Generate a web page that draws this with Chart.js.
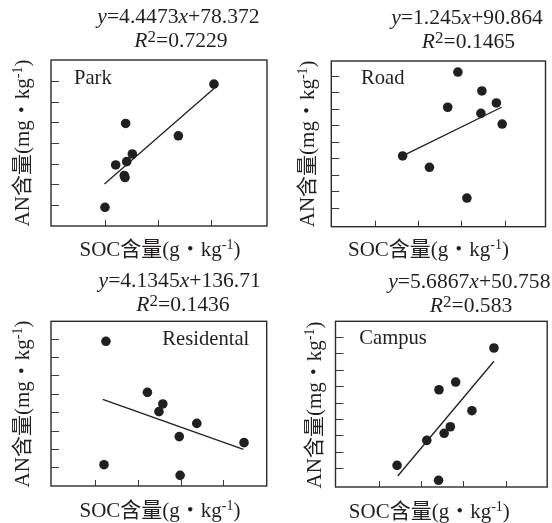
<!DOCTYPE html>
<html>
<head>
<meta charset="utf-8">
<script src="https://cdn.jsdelivr.net/npm/chart.js@4.4.0/dist/chart.umd.min.js"></script>
<style>
html,body{margin:0;padding:0;background:#ffffff;}
#wrap{position:relative;width:552px;height:523px;overflow:hidden;background:#ffffff;}
#wrap canvas{position:absolute;left:0;top:0;}
</style>
</head>
<body>
<div id="wrap">
<canvas id="c0" width="552" height="523"></canvas>
<canvas id="c1" width="552" height="523"></canvas>
<canvas id="c2" width="552" height="523"></canvas>
<canvas id="c3" width="552" height="523"></canvas>
</div>
<script>
// ---------------- DATA ----------------
const panelNames = ['Park', 'Road', 'Residental', 'Campus'];

// SOC (x, g/kg) and AN (y, mg/kg) values
const parkSOC = [15.25, 6.92, 11.89, 7.55, 7.02, 5.98, 6.79, 6.86, 4.97];
const parkAN  = [148.5, 129.5, 123.5, 114.7, 111.0, 109.4, 104.3, 103.3, 88.9];
const roadSOC = [29.17, 34.74, 26.81, 38.10, 34.51, 39.45, 16.35, 22.57, 31.26];
const roadAN  = [162.4, 150.9, 141.0, 143.6, 137.3, 130.8, 111.4, 104.5, 85.8];
const resSOC  = [2.51, 4.45, 5.17, 4.99, 6.76, 5.94, 8.97, 2.42, 5.98];
const resAN   = [158.6, 130.8, 124.5, 120.3, 113.9, 106.7, 103.4, 91.4, 85.6];
const campSOC = [18.61, 14.09, 12.12, 16.01, 13.46, 12.73, 10.68, 7.17, 12.07];
const campAN  = [173.3, 152.5, 147.8, 135.0, 125.2, 121.2, 116.9, 101.6, 92.5];

// fitted-line end points
const parkLineSOC = [4.92, 15.25];  const parkLineAN = [100.2, 146.4];
const roadLineSOC = [16.35, 39.31]; const roadLineAN = [111.4, 141.0];
const resLineSOC  = [2.36, 8.94];   const resLineAN  = [127.0, 99.8];
const campLineSOC = [7.25, 18.61];  const campLineAN = [95.1, 165.2];

// tick values (tick labels are not shown in the figure)
const parkXTicks = [5, 10, 15];
const parkYTicks = [90, 100, 110, 120, 130, 140, 150];
const roadXTicks = [10, 20, 30, 40];
const roadYTicks = [80, 90, 100, 110, 120, 130, 140, 150, 160];
const resXTicks  = [2, 4, 6, 8];
const resYTicks  = [90, 100, 110, 120, 130, 140, 150, 160];
const campXTicks = [5, 10, 15, 20];
const campYTicks = [100, 110, 120, 130, 140, 150, 160, 170, 180];

// equation texts: [text, style] style i = italic, s = superscript
const eqPark = [[['y','i'],['=4.4473',''],['x','i'],['+78.372','']], [['R','i'],['2','s'],['=0.7229','']]];
const eqRoad = [[['y','i'],['=1.245',''],['x','i'],['+90.864','']], [['R','i'],['2','s'],['=0.1465','']]];
const eqRes  = [[['y','i'],['=4.1345',''],['x','i'],['+136.71','']], [['R','i'],['2','s'],['=0.1436','']]];
const eqCamp = [[['y','i'],['=5.6867',''],['x','i'],['+50.758','']], [['R','i'],['2','s'],['=0.583','']]];

const xTitle = [['SOC含量(g・kg',''],['-1','s'],[')','']];
const yTitle = [['AN含量(mg・kg',''],['-1','s'],[')','']];

// ---------------- LAYOUT / STYLE ----------------
const INK = '#231f20';
const panels = [
  { name: panelNames[0], xs: parkSOC, ys: parkAN, lx: parkLineSOC, ly: parkLineAN,
    xt: parkXTicks, yt: parkYTicks, eq: eqPark,
    box: {l: 51, t: 60, r: 267, b: 226}, xr: [-0.12, 20.25], yr: [79.85, 160.2],
    eqX: [178.5, 181], eqY: [23, 46.5],
    lab: {x: 74, y: 84, align: 'left'}, yl: {x: 29, cy: 143}, xl: {cx: 160, y: 255.5} },
  { name: panelNames[1], xs: roadSOC, ys: roadAN, lx: roadLineSOC, ly: roadLineAN,
    xt: roadXTicks, yt: roadYTicks, eq: eqRoad,
    box: {l: 331.3, t: 61, r: 545.5, b: 226.7}, xr: [-0.2, 49.5], yr: [68.4, 169.1],
    eqX: [467, 468.5], eqY: [24, 47.5],
    lab: {x: 361, y: 83.5, align: 'left'}, yl: {x: 314, cy: 143.8}, xl: {cx: 428.5, y: 256} },
  { name: panelNames[2], xs: resSOC, ys: resAN, lx: resLineSOC, ly: resLineAN,
    xt: resXTicks, yt: resYTicks, eq: eqRes,
    box: {l: 51, t: 321.3, r: 266.7, b: 486}, xr: [-0.06, 10.03], yr: [79.8, 169.5],
    eqX: [179.7, 183], eqY: [286.5, 310.5],
    lab: {x: 249.3, y: 345.3, align: 'right'}, yl: {x: 29.3, cy: 404}, xl: {cx: 160, y: 517} },
  { name: panelNames[3], xs: campSOC, ys: campAN, lx: campLineSOC, ly: campLineAN,
    xt: campXTicks, yt: campYTicks, eq: eqCamp,
    box: {l: 335.5, t: 321.3, r: 551, b: 487}, xr: [-0.1, 24.9], yr: [88.4, 189.6],
    eqX: [469.3, 471], eqY: [288, 311.5],
    lab: {x: 359.3, y: 343.7, align: 'left'}, yl: {x: 321, cy: 405}, xl: {cx: 429.3, y: 518} }
];

const FAM = '"Liberation Serif", "Times New Roman", "Noto Sans CJK SC", serif';
function segFont(seg, base, sup) {
  const it = seg[1].indexOf('i') >= 0 ? 'italic ' : '';
  const sz = seg[1].indexOf('s') >= 0 ? sup : base;
  return it + sz + 'px ' + FAM;
}
function drawRich(ctx, segs, x0, y, base, sup, raise, align) {
  const ws = []; let w = 0;
  segs.forEach(s => { ctx.font = segFont(s, base, sup); const m = ctx.measureText(s[0]).width; ws.push(m); w += m; });
  let x = align === 'center' ? x0 - w / 2 : (align === 'right' ? x0 - w : x0);
  ctx.textAlign = 'left'; ctx.textBaseline = 'alphabetic';
  segs.forEach((s, i) => {
    ctx.font = segFont(s, base, sup);
    ctx.fillText(s[0], x, s[1].indexOf('s') >= 0 ? y - raise : y);
    x += ws[i];
  });
}

const framePlugin = {
  id: 'frame',
  afterDatasetsDraw(chart) {
    const p = chart.config.options.plugins.frame.panel;
    const ctx = chart.ctx;
    const a = chart.chartArea;
    const xs = chart.scales.x, ys = chart.scales.y;
    ctx.save();
    // ticks (inward)
    ctx.strokeStyle = '#3a3a3a'; ctx.lineWidth = 1;
    ctx.beginPath();
    p.yt.forEach(v => {
      const py = Math.round(ys.getPixelForValue(v)) + 0.5;
      ctx.moveTo(a.left, py); ctx.lineTo(a.left + 8, py);
    });
    p.xt.forEach(v => {
      const px = Math.round(xs.getPixelForValue(v)) + 0.5;
      ctx.moveTo(px, a.bottom); ctx.lineTo(px, a.bottom - 6);
    });
    ctx.stroke();
    // frame
    ctx.strokeStyle = '#2b2b2b'; ctx.lineWidth = 1.4;
    ctx.strokeRect(a.left, a.top, a.right - a.left, a.bottom - a.top);
    // texts
    ctx.fillStyle = INK;
    drawRich(ctx, p.eq[0], p.eqX[0], p.eqY[0], 21.6, 17, 4.5, 'center');
    drawRich(ctx, p.eq[1], p.eqX[1], p.eqY[1], 21.6, 17, 4.5, 'center');
    ctx.font = '20.6px ' + FAM; ctx.textAlign = p.lab.align; ctx.textBaseline = 'alphabetic';
    ctx.fillText(p.name, p.lab.x, p.lab.y);
    drawRich(ctx, xTitle, p.xl.cx, p.xl.y, 21, 14, 7, 'center');
    ctx.save();
    ctx.translate(p.yl.x, p.yl.cy);
    ctx.rotate(-Math.PI / 2);
    drawRich(ctx, yTitle, 0, 0, 21, 14, 7, 'center');
    ctx.restore();
    ctx.restore();
  }
};

panels.forEach((p, i) => {
  const pts = p.xs.map((v, k) => ({x: v, y: p.ys[k]}));
  const line = p.lx.map((v, k) => ({x: v, y: p.ly[k]}));
  new Chart(document.getElementById('c' + i), {
    type: 'scatter',
    data: {
      datasets: [
        { data: pts, showLine: false, pointRadius: 4.8, pointHoverRadius: 4.8,
          pointBackgroundColor: INK, pointBorderColor: INK, pointBorderWidth: 0 },
        { data: line, showLine: true, pointRadius: 0, borderColor: INK, borderWidth: 1.3,
          backgroundColor: INK, fill: false, tension: 0 }
      ]
    },
    options: {
      responsive: false, animation: false, events: [],
      layout: { padding: { left: p.box.l, top: p.box.t, right: 552 - p.box.r, bottom: 523 - p.box.b } },
      plugins: { legend: { display: false }, tooltip: { enabled: false }, title: { display: false },
                 frame: { panel: p } },
      scales: {
        x: { type: 'linear', display: false, min: p.xr[0], max: p.xr[1] },
        y: { type: 'linear', display: false, min: p.yr[0], max: p.yr[1] }
      }
    },
    plugins: [framePlugin]
  });
});
</script>
</body>
</html>
